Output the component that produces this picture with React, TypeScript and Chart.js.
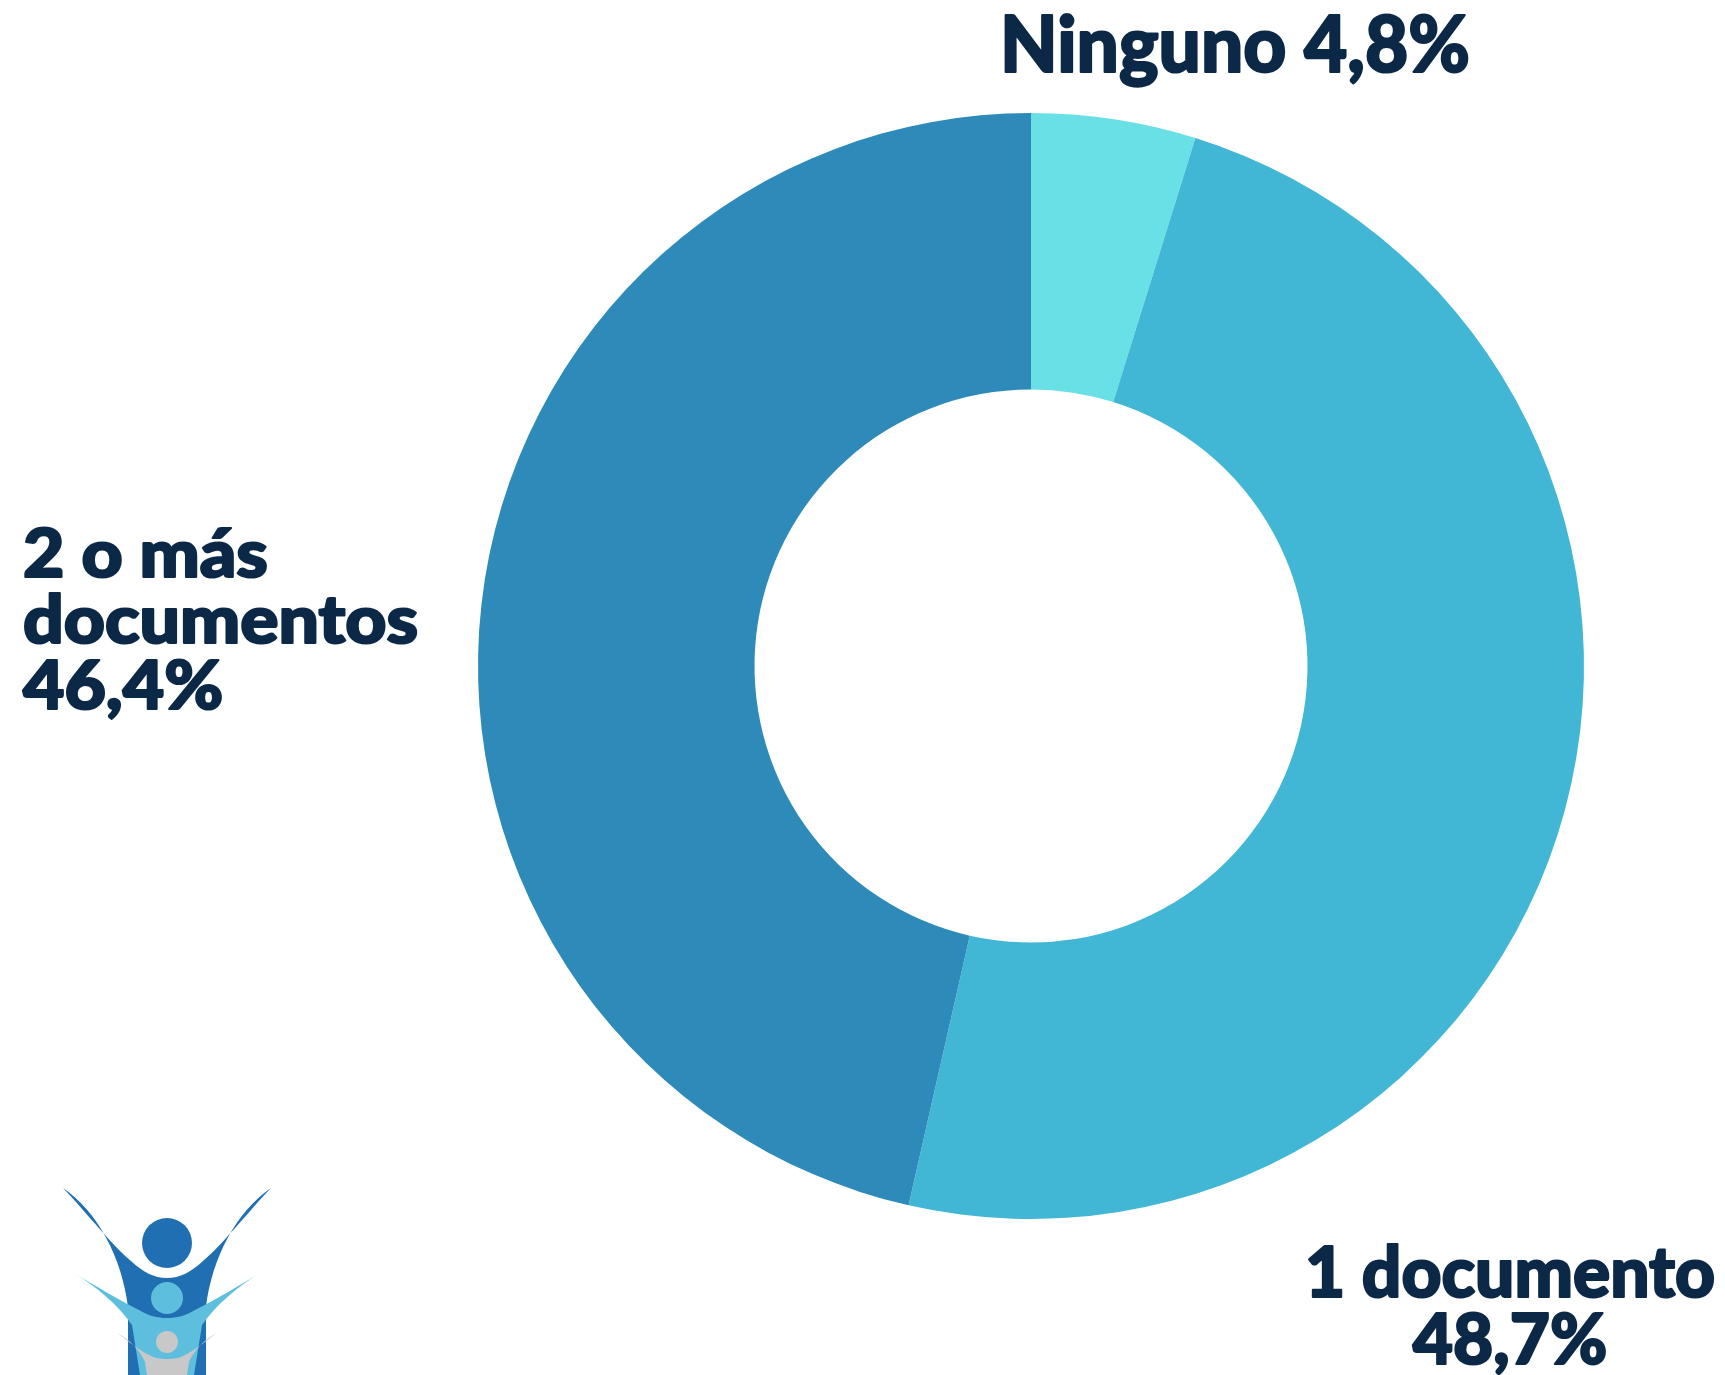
import React, { useEffect, useRef } from "react";
import { Chart, registerables } from "chart.js";

Chart.register(...registerables);

// ---- data ----
const categories = ["Ninguno", "1 documento", "2 o más\ndocumentos"];
const values = [4.8, 48.7, 46.4];
const sliceColors = ["#69E0E6", "#42B6D5", "#2E8BB9"];

// ---- label layout (text positions / styles, not data) ----
const labelLayout = [
  { x: 1000, y: 72, size: 78, lineH: 0, align: "left", inline: true, width: 470 },
  { x: 1510, y: 1297, size: 71, lineH: 67, align: "center", inline: false, width: 410 },
  { x: 23, y: 577, size: 66, lineH: 66, align: "left", inline: false, width: 395 },
];
const textColor = "#0C2847";
const fontFamily = "Lato, 'Open Sans', sans-serif";

const W = 1725;
const H = 1375;

function fmt(v: number) {
  return v.toFixed(1).replace(".", ",") + "%";
}

const labelPlugin = {
  id: "sliceLabels",
  afterDraw(chart: any) {
    const ctx = chart.ctx as CanvasRenderingContext2D;
    categories.forEach((cat, i) => {
      const L = labelLayout[i];
      ctx.save();
      ctx.fillStyle = textColor;
      ctx.strokeStyle = textColor;
      ctx.lineWidth = 2.2;
      ctx.lineJoin = "round";
      ctx.textBaseline = "alphabetic";
      ctx.font = `900 ${L.size}px ${fontFamily}`;
      ctx.textAlign = L.align as CanvasTextAlign;
      const parts = cat.split("\n");
      const lines = L.inline ? [parts.join(" ") + " " + fmt(values[i])] : [...parts, fmt(values[i])];
      const widest = Math.max(...lines.map((ln) => ctx.measureText(ln).width));
      const sx = widest > 0 ? L.width / widest : 1;
      ctx.translate(L.x, L.y);
      ctx.scale(sx, 1);
      lines.forEach((ln, j) => {
        ctx.fillText(ln, 0, j * L.lineH);
        ctx.strokeText(ln, 0, j * L.lineH);
      });
      ctx.restore();
    });
  },
};

function Logo() {
  return (
    <svg
      width={300}
      height={200}
      viewBox="0 1175 300 200"
      style={{ position: "absolute", left: 0, top: 1175 }}
    >
      <path
        d="M 63 1188 C 98 1212, 122 1258, 128 1307 L 128 1375 L 206 1375 L 206 1307 C 212 1258, 236 1212, 271 1188 C 248 1212, 224 1243, 203 1261 C 191 1272, 180 1278, 167 1278 C 154 1278, 143 1272, 131 1261 C 110 1243, 86 1212, 63 1188 Z"
        fill="#1F6FB2"
      />
      <circle cx={167} cy={1243} r={25} fill="#1F6FB2" />
      <path
        d="M 72 1272 C 95 1285, 118 1305, 132 1325 L 140 1375 L 194 1375 L 202 1325 C 216 1305, 239 1285, 262 1272 C 240 1285, 215 1300, 195 1310 C 185 1316, 177 1318, 167 1318 C 157 1318, 149 1316, 139 1310 C 119 1300, 94 1285, 72 1272 Z"
        fill="#5DBFDD"
      />
      <circle cx={167} cy={1298} r={16} fill="#5DBFDD" />
      <path
        d="M 117 1333 C 130 1340, 140 1350, 145 1362 L 147 1375 L 187 1375 L 189 1362 C 194 1350, 204 1340, 217 1333 C 205 1342, 195 1350, 185 1355 C 180 1358, 174 1359, 167 1359 C 160 1359, 154 1358, 149 1355 C 139 1350, 129 1342, 117 1333 Z"
        fill="#C8C8C8"
      />
      <circle cx={167} cy={1342} r={11} fill="#C8C8C8" />
    </svg>
  );
}

export default function App() {
  const ref = useRef<HTMLCanvasElement | null>(null);

  useEffect(() => {
    document.body.style.margin = "0";
    document.body.style.background = "#ffffff";
    if (!ref.current) return;
    const chart = new Chart(ref.current, {
      type: "doughnut",
      data: {
        labels: categories.map((c) => c.replace("\n", " ")),
        datasets: [
          {
            data: values,
            backgroundColor: sliceColors,
            borderWidth: 0,
          },
        ],
      },
      options: {
        responsive: false,
        animation: false,
        cutout: "50%",
        rotation: 0,
        layout: { padding: { left: 478, right: 141, top: 113, bottom: 156 } },
        plugins: {
          legend: { display: false },
          tooltip: { enabled: false },
          title: { display: false },
        },
      },
      plugins: [labelPlugin],
    });
    return () => chart.destroy();
  }, []);

  return (
    <div style={{ position: "relative", width: W, height: H, overflow: "hidden", background: "#fff" }}>
      <canvas ref={ref} width={W} height={H} style={{ position: "absolute", left: 0, top: 0 }} />
      <Logo />
    </div>
  );
}
